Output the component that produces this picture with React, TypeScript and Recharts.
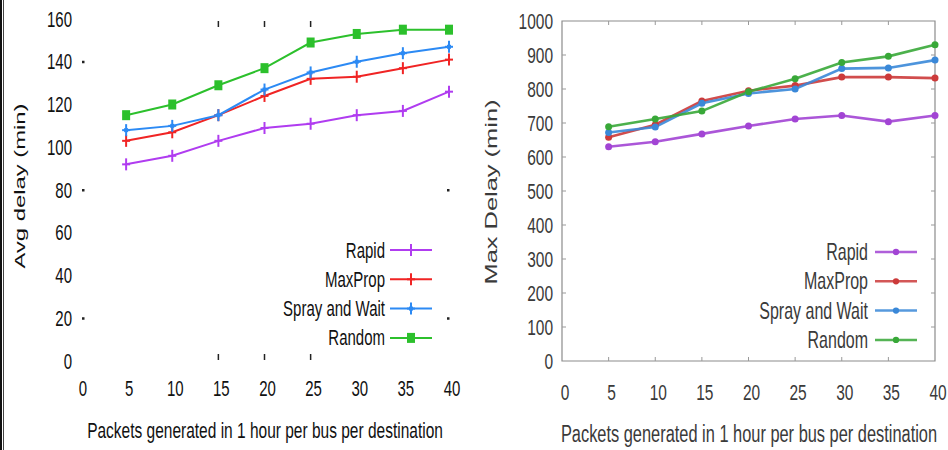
import React from 'react';
import { LineChart, Line, XAxis, YAxis, ReferenceArea, Legend } from 'recharts';

// ---------- data ----------
const xValues = [5, 10, 15, 20, 25, 30, 35, 40];
const xTicks = [0, 5, 10, 15, 20, 25, 30, 35, 40];
const avgYTicks = [0, 20, 40, 60, 80, 100, 120, 140, 160];
const maxYTicks = [0, 100, 200, 300, 400, 500, 600, 700, 800, 900, 1000];

const seriesNames = ['Rapid', 'MaxProp', 'Spray and Wait', 'Random'];

const avgRapid = [92, 96, 103, 109, 111, 115, 117, 126];
const avgMaxProp = [103, 107, 115, 124, 132, 133, 137, 141];
const avgSpray = [108, 110, 115, 127, 135, 140, 144, 147];
const avgRandom = [115, 120, 129, 137, 149, 153, 155, 155];

const maxRapid = [630, 645, 668, 691, 712, 722, 704, 722];
const maxMaxProp = [658, 695, 765, 795, 810, 835, 835, 832];
const maxSpray = [672, 688, 758, 787, 800, 860, 862, 885];
const maxRandom = [689, 712, 735, 792, 830, 878, 896, 930];

const avgData = xValues.map((x, i) => ({
  x,
  rapid: avgRapid[i],
  maxprop: avgMaxProp[i],
  spray: avgSpray[i],
  random: avgRandom[i],
}));
const maxData = xValues.map((x, i) => ({
  x,
  rapid: maxRapid[i],
  maxprop: maxMaxProp[i],
  spray: maxSpray[i],
  random: maxRandom[i],
}));

const keys = ['rapid', 'maxprop', 'spray', 'random'];
const leftColors = ['#b03cf0', '#f02424', '#2c8af4', '#2cc02c'];
const leftShapes = ['plus', 'plus', 'plusdot', 'square'];
const rightColors = ['#a244d4', '#cc3a3a', '#3a88d8', '#38a838'];

const FONT = '"Liberation Sans", Arial, Helvetica, sans-serif';
const SY = 1.45;

// ---------- layout constants ----------
const W = 948;
const H = 450;
const L_W = 470;
const L_PLOT_W = 369; // 80 -> 449
const L_PLOT_H = 342; // 19 -> 361
const R_W = 478;
const R_PLOT_W = 373; // 562 -> 935 (local 92 -> 465)
const R_PLOT_H = 340; // 21 -> 361

const SText = ({ x, y, anchor = 'middle', size, fill, children }: any) => (
  <text
    transform={`translate(${x},${y}) scale(1,${SY})`}
    textAnchor={anchor}
    dominantBaseline="central"
    fontSize={size}
    fontFamily={FONT}
    fill={fill}
  >
    {children}
  </text>
);

const Marker = ({ cx, cy, shape, color, size = 1 }: any) => {
  if (shape === 'square') {
    return <rect x={cx - 4 * size} y={cy - 5 * size} width={8 * size} height={10 * size} fill={color} />;
  }
  if (shape === 'circle') {
    return <circle cx={cx} cy={cy} r={3.5 * size} fill={color} />;
  }
  return (
    <g>
      <line x1={cx - 4} y1={cy} x2={cx + 4} y2={cy} stroke={color} strokeWidth={2} />
      <line x1={cx} y1={cy - 6} x2={cx} y2={cy + 6} stroke={color} strokeWidth={2} />
      {shape === 'plusdot' && <rect x={cx - 2} y={cy - 2} width={4} height={4} fill={color} />}
    </g>
  );
};

const makeDot = (shape: string, color: string) => (props: any) => {
  const { cx, cy, index } = props;
  if (cx == null || cy == null) return <g key={`e${index}`} />;
  return (
    <g key={`d${index}`}>
      <Marker cx={cx} cy={cy} shape={shape} color={color} />
    </g>
  );
};

// ---------- left chart ticks ----------
const LeftXTick = (props: any) => {
  const { x, y, payload } = props;
  const v = payload.value;
  const marked = v === 15 || v === 20 || v === 25;
  return (
    <g>
      <SText x={x + 3} y={y + 27} size={15} fill="#111">{v}</SText>
      {marked && <line x1={x} y1={y - 7} x2={x} y2={y - 1} stroke="#222" strokeWidth={1.5} />}
      {marked && <line x1={x} y1={y - L_PLOT_H + 2} x2={x} y2={y - L_PLOT_H + 8} stroke="#222" strokeWidth={1.5} />}
    </g>
  );
};

const LeftYTick = (props: any) => {
  const { x, y, payload } = props;
  const v = payload.value;
  return (
    <g>
      <SText x={x - 8} y={y} anchor="end" size={15} fill="#111">{v}</SText>
      {(v === 140 || v === 80 || v === 20) && <rect x={x + 2} y={y - 1} width={2.5} height={2.5} fill="#222" />}
      {(v === 80 || v === 20) && <rect x={x + L_PLOT_W - 2} y={y - 1} width={2.5} height={2.5} fill="#222" />}
    </g>
  );
};

// ---------- right chart ticks ----------
const RightXTick = (props: any) => {
  const { x, y, payload } = props;
  const v = payload.value;
  const inner = v !== 0 && v !== 40;
  return (
    <g>
      <SText x={x + 3} y={y + 31} size={15.5} fill="#3a3a3a">{v}</SText>
      {inner && <line x1={x} y1={y} x2={x} y2={y - 4} stroke="#999" strokeWidth={1} />}
      {inner && <line x1={x} y1={y - R_PLOT_H} x2={x} y2={y - R_PLOT_H + 4} stroke="#999" strokeWidth={1} />}
    </g>
  );
};

const RightYTick = (props: any) => {
  const { x, y, payload } = props;
  const v = payload.value;
  const inner = v !== 0 && v !== 1000;
  return (
    <g>
      <SText x={x - 9} y={y} anchor="end" size={15.5} fill="#3a3a3a">{v}</SText>
      {inner && <line x1={x} y1={y} x2={x + 4} y2={y} stroke="#999" strokeWidth={1} />}
      {inner && <line x1={x + R_PLOT_W} y1={y} x2={x + R_PLOT_W - 4} y2={y} stroke="#999" strokeWidth={1} />}
    </g>
  );
};

// ---------- legends ----------
const LeftLegend = () => (
  <svg width={210} height={125} style={{ display: 'block' }}>
    {seriesNames.map((n, i) => {
      const y = 20 + i * 29.3;
      return (
        <g key={n}>
          <SText x={145} y={y} anchor="end" size={15} fill="#111">{n}</SText>
          <line x1={150} y1={y} x2={192} y2={y} stroke={leftColors[i]} strokeWidth={2} />
          <Marker cx={171} cy={y} shape={leftShapes[i]} color={leftColors[i]} />
        </g>
      );
    })}
  </svg>
);

const RightLegend = () => (
  <svg width={260} height={125} style={{ display: 'block' }}>
    {seriesNames.map((n, i) => {
      const y = 22 + i * 29.3;
      return (
        <g key={n}>
          <SText x={198} y={y} anchor="end" size={16} fill="#3a3a3a">{n}</SText>
          <line x1={205} y1={y} x2={247} y2={y} stroke={rightColors[i]} strokeWidth={2.5} opacity={0.85} />
          <Marker cx={226} cy={y} shape="circle" color={rightColors[i]} size={0.9} />
        </g>
      );
    })}
  </svg>
);

export default function App() {
  return (
    <div style={{ position: 'absolute', left: 0, top: 0, width: W, height: H, background: '#fff', overflow: 'hidden' }}>
      <div style={{ position: 'absolute', left: 0, top: 0, width: 2, height: H, background: '#111' }} />
      <div style={{ position: 'absolute', left: 3, top: 0, width: 1, height: H, background: '#444' }} />

      {/* Left chart: Avg delay */}
      <div style={{ position: 'absolute', left: 0, top: 0 }}>
        <LineChart width={L_W} height={H} data={avgData} margin={{ top: 19, right: 21, bottom: 59, left: 0 }}>
          <XAxis
            dataKey="x"
            type="number"
            domain={[0, 40]}
            ticks={xTicks}
            axisLine={false}
            tickLine={false}
            tickSize={0}
            tickMargin={0}
            height={30}
            interval={0}
            tick={<LeftXTick />}
            label={{
              content: () => (
                <SText x={265} y={430} size={15.5} fill="#111">Packets generated in 1 hour per bus per destination</SText>
              ),
            }}
          />
          <YAxis
            type="number"
            domain={[0, 160]}
            ticks={avgYTicks}
            axisLine={false}
            tickLine={false}
            tickSize={0}
            tickMargin={0}
            width={80}
            interval={0}
            tick={<LeftYTick />}
            label={{
              content: () => (
                <text
                  transform="translate(19,186) rotate(-90)"
                  textAnchor="middle"
                  dominantBaseline="central"
                  fontSize={15}
                  fontFamily={FONT}
                  fill="#111"
                  textLength={165}
                  lengthAdjust="spacingAndGlyphs"
                >
                  Avg delay (min)
                </text>
              ),
            }}
          />
          <Legend
            layout="horizontal"
            align="center"
            verticalAlign="middle"
            content={<LeftLegend />}
            wrapperStyle={{ left: 240, top: 230, width: 210, height: 125 }}
          />
          {keys.map((k, i) => (
            <Line
              key={k}
              dataKey={k}
              name={seriesNames[i]}
              stroke={leftColors[i]}
              strokeWidth={2}
              dot={makeDot(leftShapes[i], leftColors[i])}
              activeDot={false}
              isAnimationActive={false}
            />
          ))}
        </LineChart>
      </div>

      {/* Right chart: Max delay */}
      <div style={{ position: 'absolute', left: L_W, top: 0 }}>
        <LineChart width={R_W} height={H} data={maxData} margin={{ top: 21, right: 13, bottom: 59, left: 0 }}>
          <ReferenceArea x1={0} x2={40} y1={0} y2={1000} fill="none" stroke="#8c8c8c" strokeWidth={1.2} ifOverflow="visible" />
          <XAxis
            dataKey="x"
            type="number"
            domain={[0, 40]}
            ticks={xTicks}
            axisLine={false}
            tickLine={false}
            tickSize={0}
            tickMargin={0}
            height={30}
            interval={0}
            tick={<RightXTick />}
            label={{
              content: () => (
                <SText x={279} y={434} size={16.4} fill="#3a3a3a">Packets generated in 1 hour per bus per destination</SText>
              ),
            }}
          />
          <YAxis
            type="number"
            domain={[0, 1000]}
            ticks={maxYTicks}
            axisLine={false}
            tickLine={false}
            tickSize={0}
            tickMargin={0}
            width={92}
            interval={0}
            tick={<RightYTick />}
            label={{
              content: () => (
                <text
                  transform="translate(21,192) rotate(-90)"
                  textAnchor="middle"
                  dominantBaseline="central"
                  fontSize={16}
                  fontFamily={FONT}
                  fill="#3a3a3a"
                  textLength={185}
                  lengthAdjust="spacingAndGlyphs"
                >
                  Max Delay  (min)
                </text>
              ),
            }}
          />
          <Legend
            layout="horizontal"
            align="center"
            verticalAlign="middle"
            content={<RightLegend />}
            wrapperStyle={{ left: 200, top: 230, width: 260, height: 125 }}
          />
          {keys.map((k, i) => (
            <Line
              key={k}
              dataKey={k}
              name={seriesNames[i]}
              stroke={rightColors[i]}
              strokeWidth={2.6}
              strokeOpacity={0.9}
              dot={makeDot('circle', rightColors[i])}
              activeDot={false}
              isAnimationActive={false}
            />
          ))}
        </LineChart>
      </div>
    </div>
  );
}
